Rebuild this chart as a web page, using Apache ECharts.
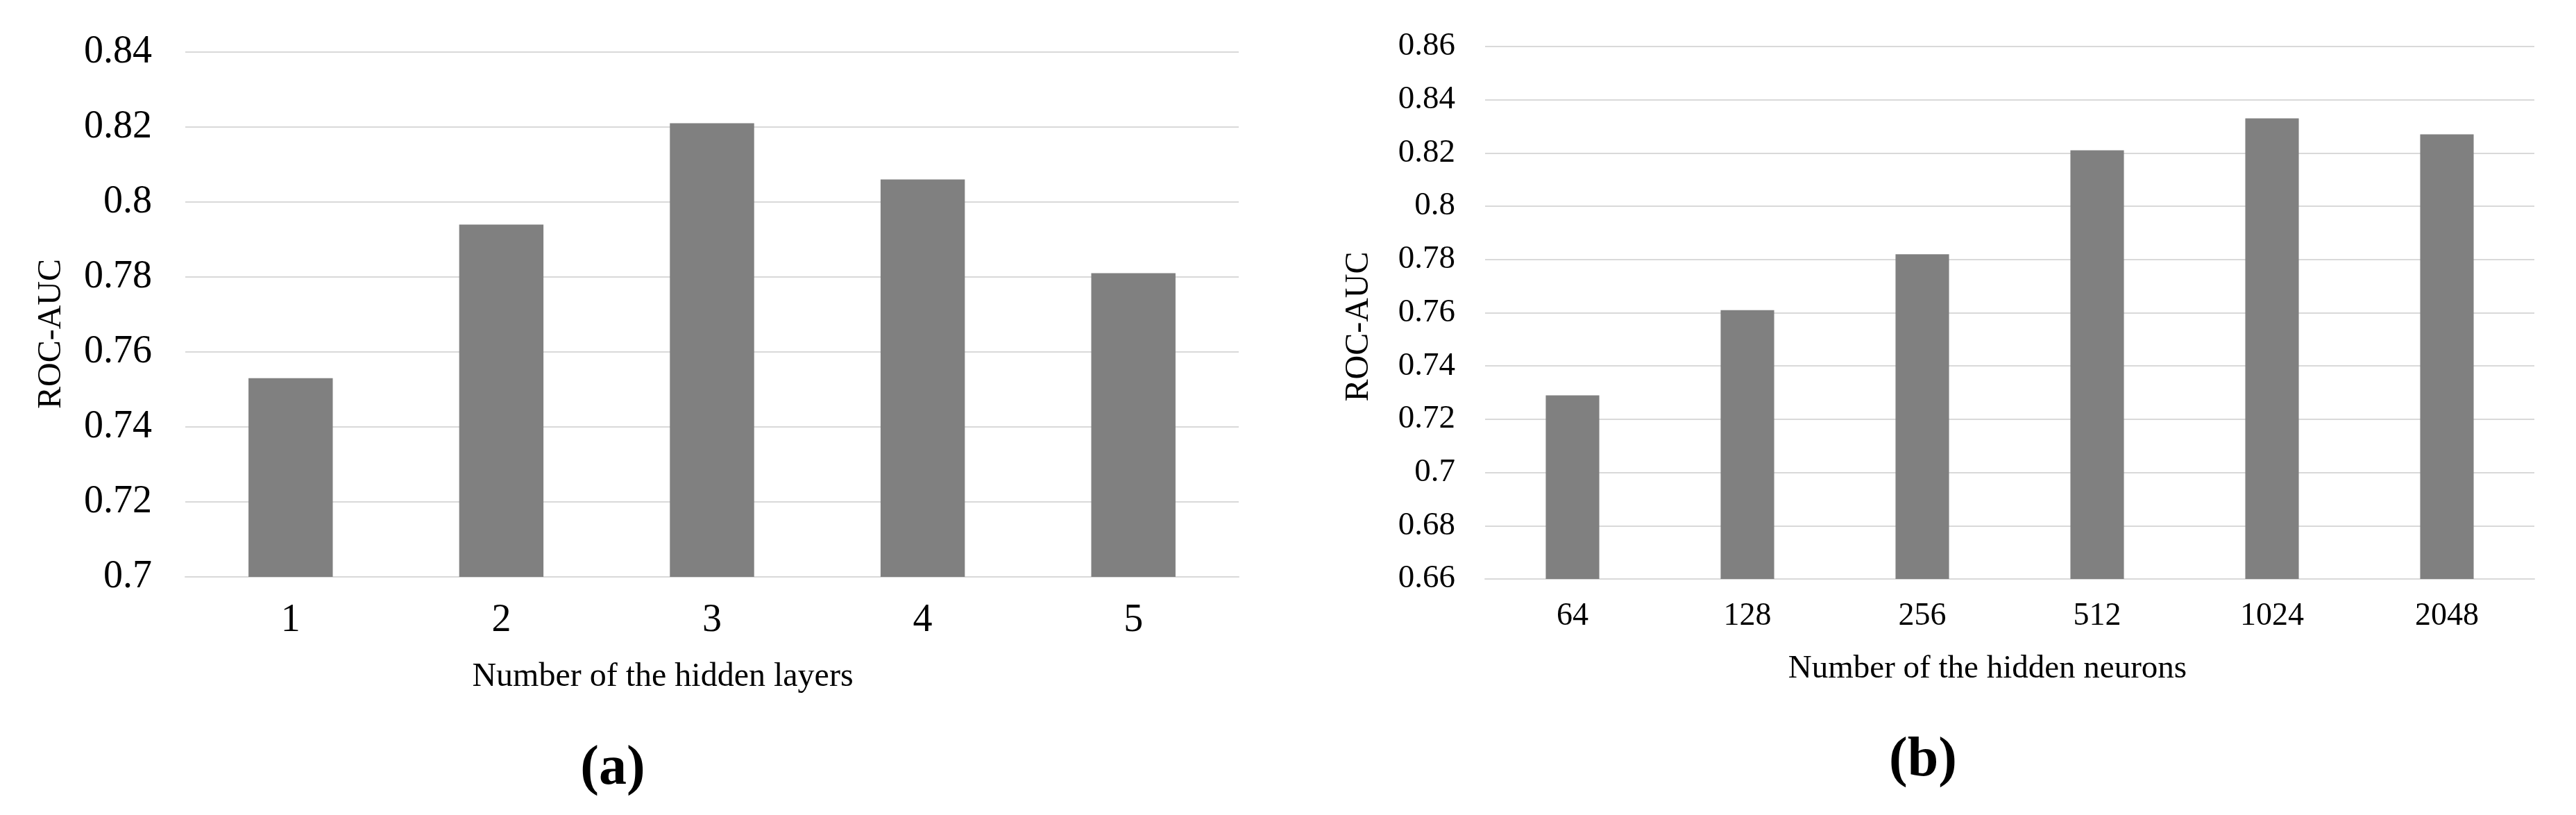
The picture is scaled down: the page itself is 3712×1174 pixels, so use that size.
<!DOCTYPE html>
<html>
<head>
<meta charset="utf-8">
<script src="https://cdn.jsdelivr.net/npm/echarts@6/dist/echarts.min.js"></script>
<style>
html,body{margin:0;padding:0;background:#fff;}
#chart{width:3712px;height:1174px;}
</style>
</head>
<body>
<div id="chart"></div>
<script>
// Panel (a)
const layersCategories = ['1', '2', '3', '4', '5'];
const layersValues = [0.753, 0.794, 0.821, 0.806, 0.781];
// Panel (b)
const neuronsCategories = ['64', '128', '256', '512', '1024', '2048'];
const neuronsValues = [0.729, 0.761, 0.782, 0.821, 0.833, 0.827];
// Axis ranges / ticks
const yRangeA = [0.70, 0.84, 0.02];
const yRangeB = [0.66, 0.86, 0.02];
const xNameA = 'Number of the hidden layers';
const xNameB = 'Number of the hidden neurons';
const yName = 'ROC-AUC';
const captions = ['(a)', '(b)'];

const FONT = '"Liberation Serif", "Times New Roman", serif';
const gridColor = '#d9d9d9';
const barColor = '#808080';

function fmt(v) {
  return String(parseFloat(v.toFixed(2)));
}

const chart = echarts.init(document.getElementById('chart'), null, {renderer: 'canvas'});
chart.setOption({
  backgroundColor: '#ffffff',
  animation: false,
  grid: [
    {left: 267, top: 75, width: 1518, height: 756, containLabel: false},
    {left: 2140, top: 67, width: 1512, height: 767, containLabel: false}
  ],
  xAxis: [
    {
      type: 'category', gridIndex: 0, data: layersCategories,
      axisLine: {show: true, lineStyle: {color: gridColor, width: 2}},
      axisTick: {show: false},
      axisLabel: {color: '#000', fontFamily: FONT, fontSize: 56, margin: 35},
      name: xNameA, nameLocation: 'middle', nameGap: 120,
      nameTextStyle: {color: '#000', fontFamily: FONT, fontSize: 48, padding: [0, 142, 0, 0]}
    },
    {
      type: 'category', gridIndex: 1, data: neuronsCategories,
      axisLine: {show: true, lineStyle: {color: gridColor, width: 2}},
      axisTick: {show: false},
      axisLabel: {color: '#000', fontFamily: FONT, fontSize: 46, margin: 31},
      name: xNameB, nameLocation: 'middle', nameGap: 106,
      nameTextStyle: {color: '#000', fontFamily: FONT, fontSize: 47, padding: [0, 64, 0, 0]}
    }
  ],
  yAxis: [
    {
      type: 'value', gridIndex: 0, min: yRangeA[0], max: yRangeA[1], interval: yRangeA[2],
      axisLine: {show: false}, axisTick: {show: false},
      splitLine: {show: true, lineStyle: {color: gridColor, width: 2}},
      axisLabel: {color: '#000', fontFamily: FONT, fontSize: 56, margin: 48, formatter: fmt},
      name: yName, nameLocation: 'middle', nameGap: 169,
      nameTextStyle: {color: '#000', fontFamily: FONT, fontSize: 48, padding: [0, 56, 0, 0]}
    },
    {
      type: 'value', gridIndex: 1, min: yRangeB[0], max: yRangeB[1], interval: yRangeB[2],
      axisLine: {show: false}, axisTick: {show: false},
      splitLine: {show: true, lineStyle: {color: gridColor, width: 2}},
      axisLabel: {color: '#000', fontFamily: FONT, fontSize: 47, margin: 43, formatter: fmt},
      name: yName, nameLocation: 'middle', nameGap: 158,
      nameTextStyle: {color: '#000', fontFamily: FONT, fontSize: 48, padding: [0, 40, 0, 0]}
    }
  ],
  series: [
    {
      type: 'bar', xAxisIndex: 0, yAxisIndex: 0, data: layersValues,
      barWidth: '40%', itemStyle: {color: barColor}
    },
    {
      type: 'bar', xAxisIndex: 1, yAxisIndex: 1, data: neuronsValues,
      barWidth: '30.6%', itemStyle: {color: barColor}
    }
  ],
  graphic: [
    {type: 'text', x: 883, y: 1108,
     style: {text: captions[0], fontFamily: FONT, fontSize: 80, fontWeight: 'bold', fill: '#000',
             align: 'center', verticalAlign: 'middle'}},
    {type: 'text', x: 2771, y: 1096,
     style: {text: captions[1], fontFamily: FONT, fontSize: 80, fontWeight: 'bold', fill: '#000',
             align: 'center', verticalAlign: 'middle'}}
  ]
});
</script>
</body>
</html>
